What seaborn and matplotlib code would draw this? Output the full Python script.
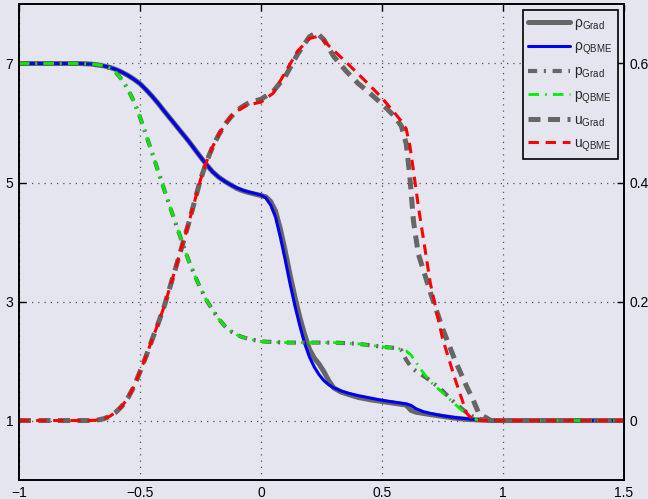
import numpy as np
import matplotlib
matplotlib.use("Agg")
import matplotlib.pyplot as plt
import seaborn as sns

# density curves (left axis)
rho_x = [-1.0, -0.85, -0.75, -0.725, -0.7, -0.675, -0.65, -0.625, -0.6, -0.575, -0.55, -0.525,
         -0.5, -0.475, -0.45, -0.425, -0.4, -0.375, -0.35, -0.325, -0.3, -0.275, -0.25, -0.225,
         -0.2, -0.175, -0.15, -0.125, -0.1, -0.075, -0.05, -0.025, 0.0, 0.02, 0.04, 0.06, 0.08,
         0.1, 0.12, 0.14, 0.16, 0.18, 0.2, 0.22, 0.24, 0.26, 0.28, 0.3, 0.33, 0.36, 0.4, 0.45,
         0.5, 0.55, 0.6, 0.62, 0.64, 0.67, 0.7, 0.75, 0.8, 0.85, 0.9, 0.95, 1.0, 1.5]
rho_qbme = [7.0, 7.0, 7.0, 6.995, 6.99, 6.975, 6.96, 6.935, 6.9, 6.855, 6.8, 6.735,
            6.66, 6.56, 6.45, 6.33, 6.2, 6.075, 5.95, 5.825, 5.7, 5.565, 5.43, 5.3,
            5.18, 5.09, 5.02, 4.96, 4.91, 4.87, 4.84, 4.815, 4.79, 4.74, 4.62, 4.42, 4.08,
            3.7, 3.3, 2.93, 2.6, 2.3, 2.07, 1.9, 1.77, 1.67, 1.6, 1.55, 1.5, 1.46, 1.42, 1.38,
            1.34, 1.31, 1.28, 1.255, 1.2, 1.15, 1.12, 1.08, 1.05, 1.03, 1.01, 1.0, 1.0, 1.0]
rho_grad = [7.0, 7.0, 7.0, 6.995, 6.99, 6.975, 6.96, 6.935, 6.9, 6.855, 6.8, 6.735,
            6.66, 6.56, 6.45, 6.33, 6.2, 6.075, 5.95, 5.825, 5.7, 5.565, 5.43, 5.3,
            5.18, 5.09, 5.02, 4.96, 4.9, 4.86, 4.83, 4.805, 4.78, 4.76, 4.68, 4.52, 4.22,
            3.85, 3.45, 3.08, 2.74, 2.45, 2.2, 2.05, 1.95, 1.82, 1.67, 1.55, 1.48, 1.44, 1.39, 1.35,
            1.32, 1.29, 1.26, 1.17, 1.14, 1.12, 1.1, 1.07, 1.04, 1.02, 1.01, 1.0, 1.0, 1.0]

# pressure curves (left axis)
p_x = [-1.0, -0.85, -0.75, -0.7, -0.675, -0.65, -0.625, -0.6, -0.575, -0.55, -0.525, -0.5,
       -0.45, -0.4, -0.35, -0.3, -0.275, -0.25, -0.225, -0.2, -0.175, -0.15, -0.125, -0.1,
       -0.075, -0.05, -0.025, 0.0, 0.1, 0.2, 0.3, 0.4, 0.5, 0.55, 0.58, 0.6, 0.62, 0.64, 0.66,
       0.7, 0.75, 0.8, 0.85, 0.875, 0.9, 0.95, 1.0, 1.5]
p_qbme = [7.0, 7.0, 7.0, 6.99, 6.98, 6.96, 6.92, 6.85, 6.73, 6.57, 6.36, 6.1,
          5.5, 4.88, 4.28, 3.7, 3.45, 3.22, 3.02, 2.86, 2.71, 2.59, 2.5, 2.44,
          2.4, 2.37, 2.35, 2.33, 2.31, 2.31, 2.31, 2.29, 2.24, 2.22, 2.2, 2.17, 2.1, 1.98, 1.86,
          1.65, 1.47, 1.28, 1.1, 1.04, 1.0, 1.0, 1.0, 1.0]
p_grad = [7.0, 7.0, 7.0, 6.99, 6.98, 6.96, 6.92, 6.85, 6.73, 6.57, 6.36, 6.1,
          5.5, 4.88, 4.28, 3.7, 3.45, 3.22, 3.02, 2.86, 2.71, 2.59, 2.5, 2.44,
          2.4, 2.37, 2.35, 2.33, 2.31, 2.31, 2.31, 2.29, 2.24, 2.22, 2.18, 2.02, 1.9, 1.83, 1.78,
          1.67, 1.5, 1.3, 1.13, 1.07, 1.03, 1.0, 1.0, 1.0]

# velocity curves (right axis)
u_x = [-1.0, -0.85, -0.75, -0.7, -0.675, -0.65, -0.625, -0.6, -0.575, -0.55, -0.525, -0.5,
       -0.475, -0.45, -0.425, -0.4, -0.35, -0.3, -0.25, -0.225, -0.2, -0.175, -0.15, -0.125,
       -0.1, -0.075, -0.05, -0.025, 0.0, 0.05, 0.1, 0.15, 0.2, 0.23, 0.26, 0.3, 0.35, 0.4,
       0.45, 0.5, 0.55, 0.58, 0.6, 0.615, 0.63, 0.65, 0.7, 0.75, 0.8, 0.85, 0.875, 0.9, 0.95,
       1.0, 1.5]
u_qbme = [0.0, 0.0, 0.0, 0.0, 0.001, 0.003, 0.007, 0.014, 0.024, 0.038, 0.057, 0.082,
          0.108, 0.136, 0.163, 0.192, 0.26, 0.33, 0.405, 0.435, 0.46, 0.48, 0.497, 0.51,
          0.52, 0.526, 0.531, 0.533, 0.535, 0.55, 0.585, 0.62, 0.642, 0.645, 0.638, 0.622, 0.603, 0.583,
          0.563, 0.542, 0.518, 0.503, 0.49, 0.462, 0.42, 0.36, 0.23, 0.138, 0.072, 0.012, 0.002, 0.0, 0.0,
          0.0, 0.0]
u_grad = [0.0, 0.0, 0.0, 0.0, 0.001, 0.003, 0.007, 0.014, 0.024, 0.038, 0.057, 0.082,
          0.108, 0.136, 0.163, 0.192, 0.26, 0.33, 0.405, 0.435, 0.46, 0.48, 0.497, 0.51,
          0.521, 0.528, 0.534, 0.537, 0.54, 0.553, 0.578, 0.615, 0.645, 0.652, 0.64, 0.612, 0.588, 0.567,
          0.55, 0.532, 0.512, 0.495, 0.465, 0.41, 0.335, 0.28, 0.215, 0.155, 0.103, 0.057, 0.036, 0.012, 0.0,
          0.0, 0.0]

bg = "#e5e5f0"
sns.set_style("white", rc={"axes.facecolor": bg, "figure.facecolor": bg})
plt.rcParams["font.family"] = ["Liberation Sans", "DejaVu Sans"]
plt.rcParams["mathtext.fontset"] = "custom"
plt.rcParams["mathtext.rm"] = "Liberation Sans"
plt.rcParams["mathtext.default"] = "regular"

fig = plt.figure(figsize=(6.48, 4.99), dpi=100)
ax = fig.add_axes([0.0293, 0.038, 0.9337, 0.954])
ax2 = ax.twinx()

gray = "#666666"

sns.lineplot(x=rho_x, y=rho_grad, ax=ax, color=gray, lw=3.6, label="ρ$_{Grad}$", legend=False)
sns.lineplot(x=rho_x, y=rho_qbme, ax=ax, color="#0000ee", lw=2.2, label="ρ$_{QBME}$", legend=False)
sns.lineplot(x=p_x, y=p_grad, ax=ax, color=gray, lw=3.0, linestyle=(0, (2.2, 1.6, 0.5, 1.6)),
             label="p$_{Grad}$", legend=False)
sns.lineplot(x=p_x, y=p_qbme, ax=ax, color="#00ee00", lw=2.0, linestyle=(0, (3.8, 2.2, 0.6, 2.2)),
             label="p$_{QBME}$", legend=False)
sns.lineplot(x=u_x, y=u_grad, ax=ax2, color=gray, lw=3.6, linestyle=(0, (2.4, 1.5)),
             label="u$_{Grad}$", legend=False)
sns.lineplot(x=u_x, y=u_qbme, ax=ax2, color="#ff0000", lw=2.2, linestyle=(0, (3.4, 2.2)),
             label="u$_{QBME}$", legend=False)

ax.set_xlim(-1, 1.5)
ax.set_ylim(0, 8)
ax2.set_ylim(-0.1, 0.7)
ax.set_xticks([-1, -0.5, 0, 0.5, 1, 1.5])
ax.set_xticklabels(["\u22121", "\u22120.5", "0", "0.5", "1", "1.5"])
ax.set_yticks([1, 3, 5, 7])
ax2.set_yticks([0, 0.2, 0.4, 0.6])
ax2.set_yticklabels(["0", "0.2", "0.4", "0.6"])
ax.set_xlabel("")
ax.set_ylabel("")
ax2.set_ylabel("")

ax.grid(True, linestyle=(0, (1, 4)), color="#555555", lw=0.9)
ax.tick_params(direction="in", length=5, width=1, top=True, right=False, labelsize=10, pad=4,
               colors="black")
ax2.tick_params(direction="in", length=5, width=1, labelsize=10, pad=4, colors="black")
for a in (ax, ax2):
    for s in a.spines.values():
        s.set_color("black")
        s.set_linewidth(1.2)

h1, l1 = ax.get_legend_handles_labels()
h2, l2 = ax2.get_legend_handles_labels()
leg = ax2.legend(h1 + h2, l1 + l2, loc="upper right", fontsize=10, frameon=True, fancybox=False,
                 handlelength=3.0, handletextpad=0.3, labelspacing=0.55, borderaxespad=0.45,
                 borderpad=0.4)
leg.get_frame().set_edgecolor("black")
leg.get_frame().set_linewidth(1.2)
leg.get_frame().set_facecolor(bg)
leg.get_frame().set_alpha(1)

fig.savefig("out.png", dpi=100, facecolor=bg)
